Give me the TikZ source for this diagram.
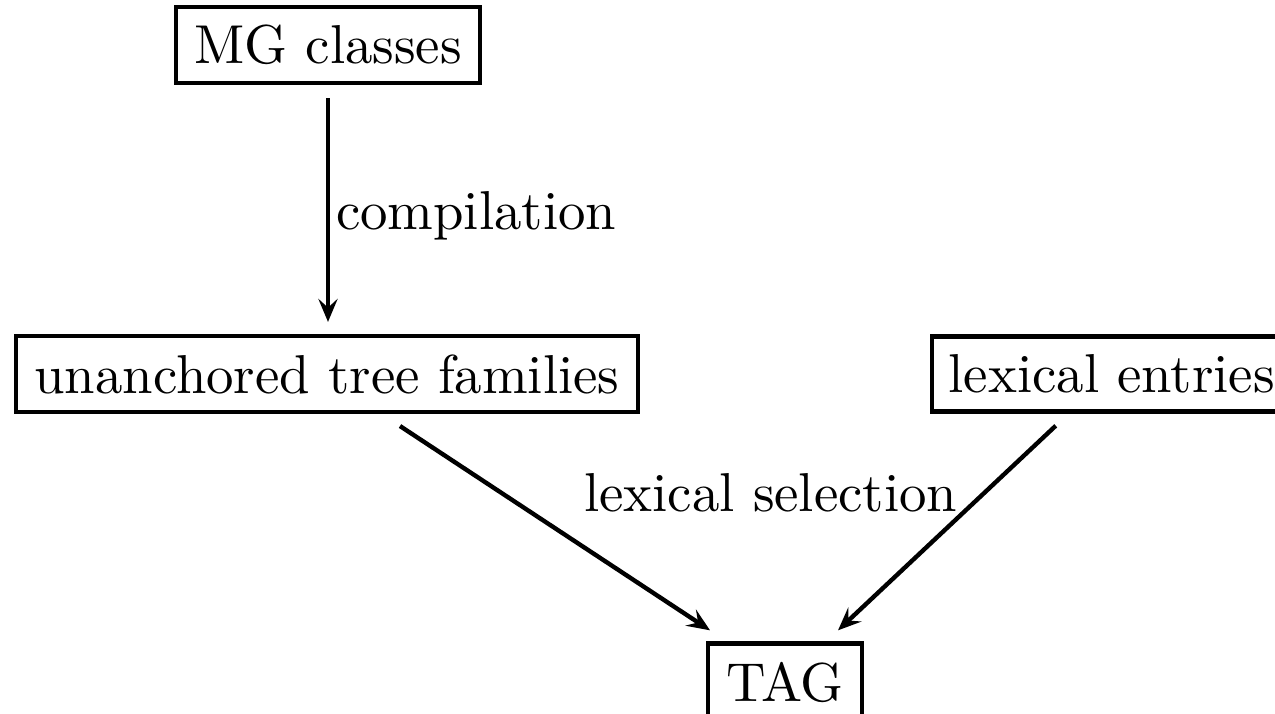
\documentclass[tikz,border=0pt]{standalone}
\usetikzlibrary{calc,arrows.meta}
\begin{document}
\begin{tikzpicture}[x=0.18248pt,y=-0.18248pt,
  box/.style={draw,thick,rectangle,inner sep=3.33pt},
  conn/.style={thick,-{Stealth[length=4.2pt,width=3.5pt,inset=1.6pt]}},
  lbl/.style={inner sep=0pt,anchor=base west}]
\useasboundingbox (0,0) rectangle (1275,714);
\node[box] (mg) at (328,45) {MG classes};
\node[box] (un) at (327,374) {unanchored tree families};
\node[box,anchor=west,inner xsep=3.0pt] (le) at (930,374) {lexical entries};
\node[box] (tag) at (785,682) {TAG};
\draw[conn] ($(mg.south)+(0,13)$) -- ($(un.north)+(1,-12)$);
\draw[conn] ($(un.south)+(73,12)$) -- ($(tag.north)+(-75,-11)$);
\draw[conn] ($(le.south)+(-56,12)$) -- ($(tag.north)+(53,-11)$);
\node[lbl] (l1) at (335,230) {compilation};
\node[lbl] (l2) at (583,512) {lexical selection};
\end{tikzpicture}
\end{document}
